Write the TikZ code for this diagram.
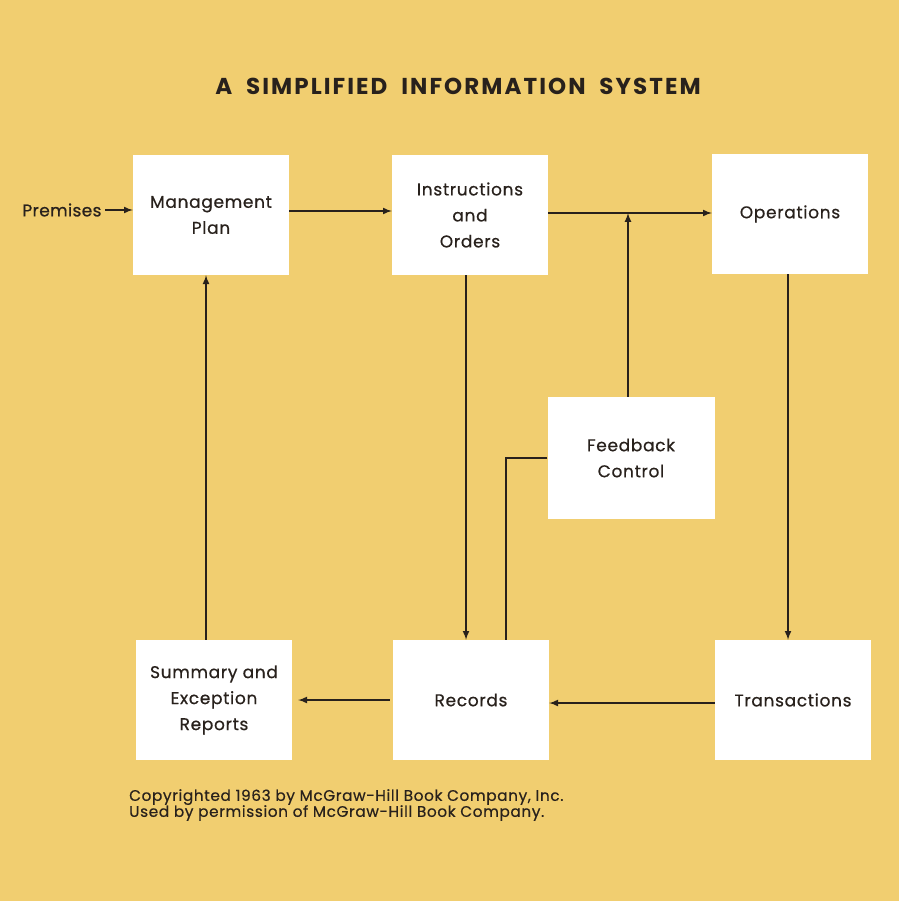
\documentclass[tikz,border=0pt]{standalone}
\usepackage{fontspec}
\setmainfont{Poppins}
\usetikzlibrary{arrows,positioning,calc}

\definecolor{paper}{RGB}{241,206,112}
\definecolor{ink}{RGB}{40,33,28}

\tikzset{
  blok/.style={fill=white,minimum width=156pt,minimum height=120pt,align=center,
    font=\fontsize{17}{26}\selectfont\addfontfeature{LetterSpace=4,FakeBold=0.6},text=ink},
  nyil/.style={-latex,line width=2pt,draw=ink},
  vonal/.style={line width=2pt,draw=ink}
}

\begin{document}
\begin{tikzpicture}[x=1pt,y=-1pt]

% Hatter
\fill[paper] (0,0) rectangle (899,901);

% Cim
\node[font=\fontsize{23}{28}\selectfont\bfseries\addfontfeature{LetterSpace=9},text=ink] (cim) at (458,86) {A\ \ SIMPLIFIED\ \ INFORMATION\ \ SYSTEM};

% Dobozok
\node[blok] (terv) at (211,215) {Management\\Plan};
\node[blok] (utas) at (470,215) {Instructions\\and\\Orders};
\node[blok] (muv) at (790,214) {Operations};
\node[blok,minimum width=167pt,minimum height=122pt] (visz) at (631,458) {Feedback\\Control};
\node[blok] (jel) at (214,700) {Summary and\\Exception\\Reports};
\node[blok] (nyt) at (471,700) {Records};
\node[blok] (tr) at (793,700) {Transactions};

% Bemenet
\node[font=\fontsize{17}{20}\selectfont\addfontfeature{LetterSpace=2,FakeBold=0.6},text=ink,anchor=east] (prem) at (105,210) {Premises};
\draw[nyil] (prem.east) -- (prem.east -| terv.west);

% Felso sor
\draw[nyil] ([yshift=4pt]terv.east) -- ([yshift=4pt]utas.west);
\draw[nyil] ([yshift=2pt]utas.east) coordinate(j) -- (j -| muv.west);
\draw[nyil] ([xshift=-3pt]visz.north) -- ([xshift=-3pt]visz.north |- j);

% Fuggoleges vonalak
\draw[nyil] ([xshift=-4pt]utas.south) -- ([xshift=-4pt]utas.south |- nyt.north);
\draw[nyil] ([xshift=-2pt]muv.south) -- ([xshift=-2pt]muv.south |- tr.north);
\draw[nyil] ([xshift=-8pt]jel.north) -- ([xshift=-8pt]jel.north |- terv.south);

% Also sor
\draw[nyil] ([yshift=-3pt]tr.west) -- ([yshift=-3pt]nyt.east);
\draw[nyil,shorten <=3pt,shorten >=6pt] (nyt.west) -- (jel.east);

% Visszacsatolas
\draw[vonal] (visz.west) -- ++(-41,0) coordinate(sarok) -- (sarok |- nyt.north);

% Szerzoi jog
\node[anchor=north west,align=left,inner sep=0pt,text=ink,
  font=\fontsize{15.3}{16}\selectfont\addfontfeature{LetterSpace=4,FakeBold=0.5}] (jog) at (129,789)
  {Copyrighted 1963 by McGraw-Hill Book Company, Inc.\\Used by permission of McGraw-Hill Book Company.};

\end{tikzpicture}
\end{document}
